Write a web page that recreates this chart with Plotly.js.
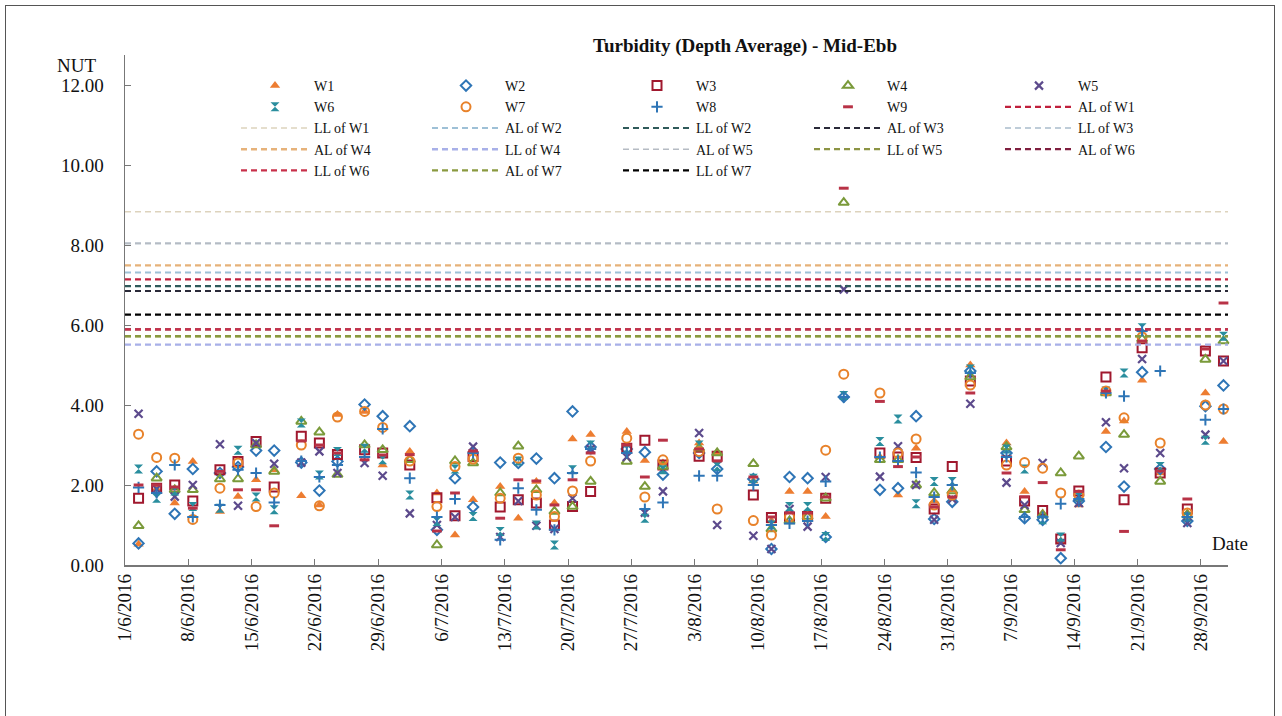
<!DOCTYPE html>
<html><head><meta charset="utf-8">
<script src="https://cdn.plot.ly/plotly-3.0.1.min.js"></script>
<style>
html,body{margin:0;padding:0;background:#fff;}
#frame{position:absolute;left:5px;top:5px;width:1270px;height:720px;border:1px solid #555;box-sizing:border-box;}
#chart{position:absolute;left:0;top:0;width:1282px;height:716px;}
</style></head><body>
<div id="frame"></div>
<div id="chart"></div>
<script>
// Sampling dates (mid-ebb)
const dates = ['2016-06-02','2016-06-04','2016-06-06','2016-06-08','2016-06-11','2016-06-13','2016-06-15','2016-06-17','2016-06-20','2016-06-22','2016-06-24','2016-06-27','2016-06-29',
'2016-07-02','2016-07-05','2016-07-07','2016-07-09','2016-07-12','2016-07-14','2016-07-16','2016-07-18','2016-07-20','2016-07-22','2016-07-26','2016-07-28','2016-07-30',
'2016-08-03','2016-08-05','2016-08-09','2016-08-11','2016-08-13','2016-08-15','2016-08-17','2016-08-19','2016-08-23','2016-08-25','2016-08-27','2016-08-29','2016-08-31',
'2016-09-02','2016-09-06','2016-09-08','2016-09-10','2016-09-12','2016-09-14','2016-09-17','2016-09-19','2016-09-21','2016-09-23','2016-09-26','2016-09-28','2016-09-30'];

const W1 = [0.52,1.9,1.55,2.59,1.34,1.71,2.13,2.38,1.73,1.5,3.76,3.84,2.5,2.84,1.8,0.75,1.63,1.96,1.17,2.09,1.55,3.15,3.26,3.34,2.61,2.55,3.05,2.8,2.1,1.1,1.84,1.84,1.21,null,2.7,1.75,2.92,1.6,1.88,5.0,3.05,1.84,1.3,0.6,1.5,3.34,3.6,4.62,2.3,1.3,4.3,3.09];
const W2 = [0.54,2.34,1.28,2.40,2.3,2.45,2.86,2.86,2.56,1.86,2.59,4.01,3.72,3.47,0.88,2.17,1.45,2.56,2.55,2.66,2.17,3.84,2.95,2.9,2.82,2.26,2.8,2.4,2.15,0.4,2.2,2.17,0.7,4.2,1.88,1.92,3.72,1.15,1.58,4.85,2.8,1.17,1.13,0.17,1.6,2.95,1.96,4.82,2.4,1.1,3.97,4.49];
const W3 = [1.67,1.92,2.0,1.6,2.38,2.59,3.09,1.95,3.22,3.05,2.76,2.88,2.8,2.5,1.68,1.23,2.71,1.45,1.63,1.55,1.0,1.46,1.84,2.92,3.12,2.5,2.72,2.72,1.75,1.19,1.2,1.21,1.67,null,2.8,2.7,2.69,1.4,2.46,4.6,2.6,1.6,1.36,0.65,1.85,4.7,1.63,5.43,2.3,1.4,5.35,5.1];
const W4 = [0.98,2.17,1.88,1.88,2.15,2.15,3.0,2.34,3.59,3.32,2.26,3.0,2.88,2.63,0.5,2.6,2.55,1.8,2.97,1.88,1.34,1.46,2.09,2.59,1.96,2.46,2.92,2.8,2.53,0.9,1.1,1.21,1.67,9.06,2.63,2.63,2.0,1.8,1.85,4.7,2.95,1.38,1.25,2.3,2.72,4.3,3.26,5.65,2.09,1.25,5.14,5.6];
const W5 = [3.78,1.9,1.71,2.0,3.02,1.48,3.05,2.53,2.56,2.84,2.3,2.55,2.23,1.29,1.0,1.2,2.96,0.7,1.6,0.98,0.9,1.67,2.9,2.7,1.31,1.84,3.3,1.0,0.73,0.4,1.4,0.96,2.2,6.89,2.21,2.97,2.0,1.13,1.65,4.03,2.06,1.5,2.55,0.55,1.55,3.57,2.42,5.15,2.8,1.05,3.26,5.1];
const W6 = [2.40,1.67,1.85,1.46,1.42,2.87,1.7,1.38,3.55,2.25,2.84,2.92,2.63,1.75,1.09,2.4,1.21,0.84,2.6,1.0,0.5,2.38,3.0,2.9,1.17,2.38,3.0,2.46,2.17,1.0,1.46,1.46,0.71,4.24,3.09,3.65,1.53,2.09,2.09,4.9,2.9,2.4,1.13,0.7,1.7,4.35,4.8,5.93,2.46,1.2,3.12,5.72];
const W7 = [3.27,2.69,2.67,1.14,1.92,2.55,1.46,1.80,3.0,1.48,3.7,3.84,3.44,2.6,1.46,2.46,2.65,1.67,2.67,1.75,1.21,1.85,2.6,3.17,1.7,2.63,2.84,1.4,1.11,0.75,1.2,1.2,2.87,4.77,4.3,2.8,3.15,1.5,1.75,4.5,2.5,2.56,2.42,1.8,1.75,4.35,3.68,5.7,3.05,1.3,4.0,3.9];
const W8 = [1.94,1.8,2.5,1.2,1.5,2.38,2.3,1.56,2.6,2.2,2.5,2.7,3.4,2.17,1.2,1.65,2.8,0.63,1.92,1.38,0.88,2.3,2.9,2.8,1.4,1.56,2.23,2.23,2.0,1.0,1.04,1.1,2.09,4.2,2.7,2.6,2.31,1.7,2.0,4.8,2.7,1.2,1.2,1.53,1.65,4.3,4.22,5.85,4.85,1.2,3.63,3.9];
const W9 = [2.0,2.0,1.95,1.42,2.34,1.88,1.88,0.98,3.1,3.0,2.8,2.63,2.75,2.76,0.85,1.8,2.85,1.17,2.13,2.1,1.5,2.13,2.8,3.0,2.2,3.12,2.9,2.6,2.2,1.2,1.3,1.3,1.7,9.42,4.09,2.46,2.7,1.45,1.7,4.3,2.3,1.7,2.06,0.38,1.84,4.35,0.84,5.6,2.35,1.65,5.4,6.55];

const stationNames = ['W1','W2','W3','W4','W5','W6','W7','W8','W9'];
const stationValues = [W1,W2,W3,W4,W5,W6,W7,W8,W9];

// Action / Limit levels (NTU)
const levelNames  = ['AL of W1','LL of W1','AL of W2','LL of W2','AL of W3','LL of W3','AL of W4','LL of W4','AL of W5','LL of W5','AL of W6','LL of W6','AL of W7','LL of W7'];
const levelValues = [7.14, 8.83, 7.31, 6.97, 6.85, 8.04, 7.49, 5.51, 8.04, 5.72, 5.89, 5.89, 5.72, 6.26];

const xRange = ['2016-06-01','2016-10-01'];
const yTicks = [0,2,4,6,8,10,12];

// ---- styles ----
const stationStyle = [
  {symbol:'triangle-up', color:'#ED7D31', size:9, lw:0},
  {symbol:'diamond-open', color:'#2E75B6', size:8, lw:2},
  {symbol:'square-open', color:'#A0182E', size:9, lw:2},
  {symbol:'triangle-up-open', color:'#7A9A3A', size:9, lw:2},
  {symbol:'x-thin', color:'#5C4A8C', size:8, lw:2.2},
  {symbol:'hourglass', color:'#2A8E9E', size:9, lw:0},
  {symbol:'circle-open', color:'#E8822A', size:9, lw:2},
  {symbol:'cross-thin', color:'#2E75B6', size:8, lw:2},
  {symbol:'line-ew', color:'#B83246', size:7, lw:3}
];
const levelStyle = [
  {color:'#C0203C', w:2.2},
  {color:'#DDD3BD', w:1.6},
  {color:'#9EC0D6', w:2},
  {color:'#2F5A5A', w:2.2},
  {color:'#2A2A38', w:2.2},
  {color:'#A9BCCB', w:1.6},
  {color:'#E6B27A', w:2.4},
  {color:'#A8B0E8', w:2.4},
  {color:'#B5BBC3', w:1.6},
  {color:'#8C9444', w:2.2},
  {color:'#7F1F3F', w:2.2},
  {color:'#C8304A', w:2.2},
  {color:'#8A9A3F', w:2.4},
  {color:'#000000', w:2.2}
];

const FONT = "'Liberation Serif', 'Times New Roman', serif";
const legendIds = ['legend','legend2','legend3','legend4','legend5'];
const xs = dates.map(d => d + ' 12:00');

const traces = [];
let idx = 0;
stationNames.forEach((name, i) => {
  const st = stationStyle[i];
  traces.push({
    type:'scatter', mode:'markers', name:name, x:xs, y:stationValues[i],
    legend: legendIds[idx % 5],
    marker:{symbol:st.symbol, size:st.size, color:st.color,
      line:{width:st.lw, color:st.color}},
    cliponaxis:false
  });
  idx++;
});
levelNames.forEach((name, i) => {
  const st = levelStyle[i];
  traces.push({
    type:'scatter', mode:'lines', name:name, x:xRange, y:[levelValues[i], levelValues[i]],
    legend: legendIds[idx % 5],
    line:{color:st.color, width:st.w, dash:'6px,4px'},
    hoverinfo:'skip'
  });
  idx++;
});

const colStarts = [236, 427, 618, 809, 1000];
const plotL = 125, plotR = 1228, plotT = 55, plotB = 565;
const legendCommon = {
  bgcolor:'rgba(0,0,0,0)', borderwidth:0, font:{family:FONT, size:14, color:'#111'},
  xanchor:'left', yanchor:'top', itemwidth:68, tracegroupgap:0, orientation:'v'
};
const layout = {
  width:1282, height:716,
  paper_bgcolor:'rgba(0,0,0,0)', plot_bgcolor:'rgba(0,0,0,0)',
  margin:{l:plotL, r:1282-plotR, t:plotT, b:716-plotB},
  font:{family:FONT, size:19, color:'#111'},
  showlegend:true,
  title:{text:'<b>Turbidity (Depth Average) - Mid-Ebb</b>', font:{family:FONT, size:19, color:'#111'},
    xref:'container', yref:'container', x:745/1282, y:1-45/716, xanchor:'center', yanchor:'middle'},
  xaxis:{type:'date', range:xRange, tick0:'2016-06-01', dtick:7*86400000,
    tickformat:'%-d/%-m/%Y', tickangle:-90, ticks:'inside', ticklen:6, tickcolor:'#777',
    showline:true, linecolor:'#777', linewidth:1.5, showgrid:false, zeroline:false,
    tickfont:{family:FONT, size:19, color:'#111'}},
  yaxis:{range:[0,12.75], tickvals:yTicks, tickformat:'.2f', ticks:'inside', ticklen:6, tickcolor:'#777',
    ticklabelstandoff:16,
    showline:true, linecolor:'#777', linewidth:1.5, showgrid:false, zeroline:false,
    tickfont:{family:FONT, size:19, color:'#111'}},
  annotations:[
    {text:'NUT', xref:'paper', yref:'paper', x:(76-plotL)/(plotR-plotL), y:(plotB-65)/(plotB-plotT),
     xanchor:'center', yanchor:'middle', showarrow:false, font:{family:FONT, size:19, color:'#111'}},
    {text:'Date', xref:'paper', yref:'paper', x:(1230-plotL)/(plotR-plotL), y:(plotB-543)/(plotB-plotT),
     xanchor:'center', yanchor:'middle', showarrow:false, font:{family:FONT, size:19, color:'#111'}}
  ]
};
legendIds.forEach((id, k) => {
  layout[id] = Object.assign({}, legendCommon, {
    x:(colStarts[k]-plotL)/(plotR-plotL), y:1 + (plotT-70)/(plotB-plotT)
  });
});

Plotly.newPlot('chart', traces, layout, {displayModeBar:false, staticPlot:true});
</script>
</body></html>
